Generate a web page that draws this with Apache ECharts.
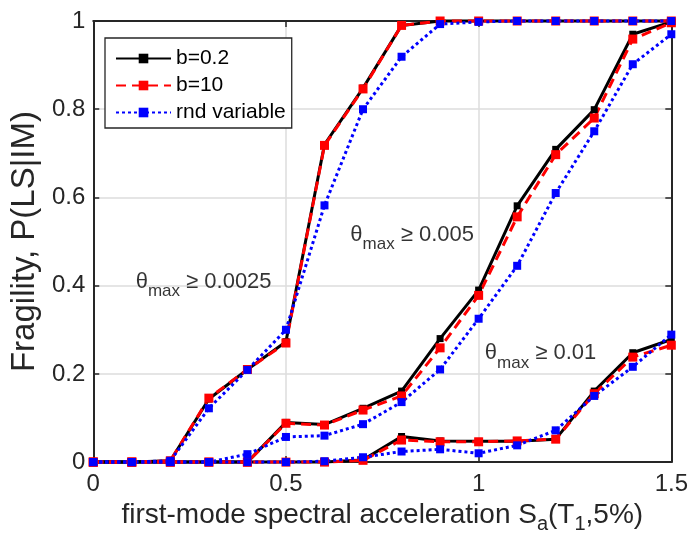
<!DOCTYPE html>
<html><head><meta charset="utf-8">
<script src="https://cdn.jsdelivr.net/npm/echarts@6/dist/echarts.min.js"></script>
<style>html,body{margin:0;padding:0;background:#fff}#c{width:691px;height:539px}</style>
</head><body><div id="c"></div>
<script>
// Sa values (g)
const sa = [0, 0.1, 0.2, 0.3, 0.4, 0.5, 0.6, 0.7, 0.8, 0.9, 1.0, 1.1, 1.2, 1.3, 1.4, 1.5];
// theta_max >= 0.0025
const b02_a = [0, 0, 0.003, 0.143, 0.21, 0.273, 0.72, 0.848, 0.99, 1, 1, 1, 1, 1, 1, 1];
const b10_a = [0, 0, 0.003, 0.145, 0.21, 0.27, 0.718, 0.846, 0.99, 1, 1, 1, 1, 1, 1, 1];
const rnd_a = [0, 0, 0.003, 0.122, 0.209, 0.30, 0.582, 0.80, 0.919, 0.993, 0.998, 1, 1, 1, 1, 1];
// theta_max >= 0.005
const b02_b = [0, 0, 0, 0, 0, 0.09, 0.085, 0.122, 0.161, 0.28, 0.39, 0.581, 0.709, 0.799, 0.97, 0.998];
const b10_b = [0, 0, 0, 0, 0, 0.088, 0.084, 0.118, 0.15, 0.259, 0.378, 0.556, 0.697, 0.78, 0.959, 0.996];
const rnd_b = [0, 0, 0, 0, 0.018, 0.057, 0.06, 0.086, 0.136, 0.21, 0.325, 0.445, 0.61, 0.75, 0.902, 0.97];
// theta_max >= 0.01
const b02_c = [0, 0, 0, 0, 0, 0, 0, 0.005, 0.058, 0.048, 0.047, 0.047, 0.052, 0.161, 0.248, 0.278];
const b10_c = [0, 0, 0, 0, 0, 0, 0, 0.004, 0.05, 0.046, 0.046, 0.048, 0.052, 0.155, 0.238, 0.265];
const rnd_c = [0, 0, 0, 0, 0, 0, 0.002, 0.011, 0.024, 0.029, 0.02, 0.038, 0.072, 0.15, 0.216, 0.289];
// annotations: [x, y, threshold]
const notes = [[0.11, 0.404, '0.0025'], [0.667, 0.51, '0.005'], [1.016, 0.242, '0.01']];
const legendNames = ['b=0.2', 'b=10', 'rnd variable'];
const xTicks = { min: 0, max: 1.5, interval: 0.5 };
const yTicks = { min: 0, max: 1, interval: 0.2 };

const FONT = 'Liberation Sans';
const AX = '#262626';
const chart = echarts.init(document.getElementById('c'), null, { renderer: 'canvas' });
const pts = arr => sa.map((x, i) => [x, arr[i]]);

function lineSeries(name, arr, color, type, width, size) {
  return {
    type: 'line', name: name, data: pts(arr), clip: false,
    symbol: 'rect', symbolSize: size, showSymbol: true,
    lineStyle: { color: color, width: width, type: type },
    itemStyle: { color: color },
    animation: false, z: 3
  };
}
const series = [];
[b02_a, b02_b, b02_c].forEach(a => series.push(lineSeries('b=0.2', a, '#000000', 'solid', 3, 7)));
[b10_a, b10_b, b10_c].forEach(a => series.push(lineSeries('b=10', a, '#ff0000', [10, 6], 3, 9)));
[rnd_a, rnd_b, rnd_c].forEach(a => series.push(lineSeries('rnd variable', a, '#0000ff', [3, 3], 3, 8)));
series.push({
  type: 'scatter', name: 'notes', symbolSize: 0, silent: true, animation: false,
  data: notes.map(n => ({ value: [n[0], n[1]], thr: n[2] })),
  label: {
    show: true, position: [0, 0], align: 'left', verticalAlign: 'middle',
    formatter: p => '{t|θ}{s|max}{t| ≥ ' + p.data.thr + '}',
    rich: {
      t: { fontFamily: FONT, fontSize: 22, color: '#000', lineHeight: 26, verticalAlign: 'top' },
      s: { fontFamily: FONT, fontSize: 17, color: '#000', lineHeight: 26, verticalAlign: 'top', padding: [12, 0, 0, 0] }
    }
  }
});

const axisCommon = {
  type: 'value',
  axisLine: { show: true, onZero: false, lineStyle: { color: AX, width: 2 } },
  axisTick: { show: true, inside: true, length: 6, lineStyle: { color: AX, width: 1.5 } },
  axisLabel: { color: AX, fontFamily: FONT, fontSize: 24 }
};

chart.setOption({
  backgroundColor: '#ffffff',
  animation: false,
  grid: { left: 88, right: 18, top: 21, bottom: 76, containLabel: false },
  legend: {
    data: legendNames, orient: 'vertical', left: 105, top: 38,
    backgroundColor: '#ffffff', borderColor: AX, borderWidth: 1.3,
    padding: [10, 6, 5, 10], itemGap: 6, itemWidth: 55, itemHeight: 12,
    textStyle: { fontFamily: FONT, fontSize: 21, color: '#000', lineHeight: 20 },
    selectedMode: false
  },
  xAxis: [
    Object.assign({}, axisCommon, {
      position: 'bottom', min: xTicks.min, max: xTicks.max, interval: xTicks.interval,
      splitLine: { show: true, lineStyle: { color: '#dcdcdc', width: 1.5 } },
      axisLabel: Object.assign({}, axisCommon.axisLabel, { margin: 10 }),
      name: '{t|first-mode spectral acceleration S}{s|a}{t|(T}{s|1}{t|,5%)}',
      nameLocation: 'middle', nameGap: 38,
      nameTextStyle: {
        rich: {
          t: { fontFamily: FONT, fontSize: 28, color: AX, lineHeight: 32, verticalAlign: 'top' },
          s: { fontFamily: FONT, fontSize: 20, color: AX, lineHeight: 32, verticalAlign: 'top', padding: [13, 0, 0, 0] }
        }
      }
    }),
    Object.assign({}, axisCommon, {
      position: 'top', min: xTicks.min, max: xTicks.max, interval: xTicks.interval,
      splitLine: { show: false }, axisLabel: { show: false }
    })
  ],
  yAxis: [
    Object.assign({}, axisCommon, {
      position: 'left', min: yTicks.min, max: yTicks.max, interval: yTicks.interval,
      splitLine: { show: true, lineStyle: { color: '#dcdcdc', width: 1.5 } },
      axisLabel: Object.assign({}, axisCommon.axisLabel, { margin: 8 }),
      name: 'Fragility, P(LS|IM)', nameLocation: 'middle', nameGap: 44,
      nameTextStyle: { fontFamily: FONT, fontSize: 33, color: AX }
    }),
    Object.assign({}, axisCommon, {
      position: 'right', min: yTicks.min, max: yTicks.max, interval: yTicks.interval,
      splitLine: { show: false }, axisLabel: { show: false }
    })
  ],
  series: series
});
</script>
</body></html>
